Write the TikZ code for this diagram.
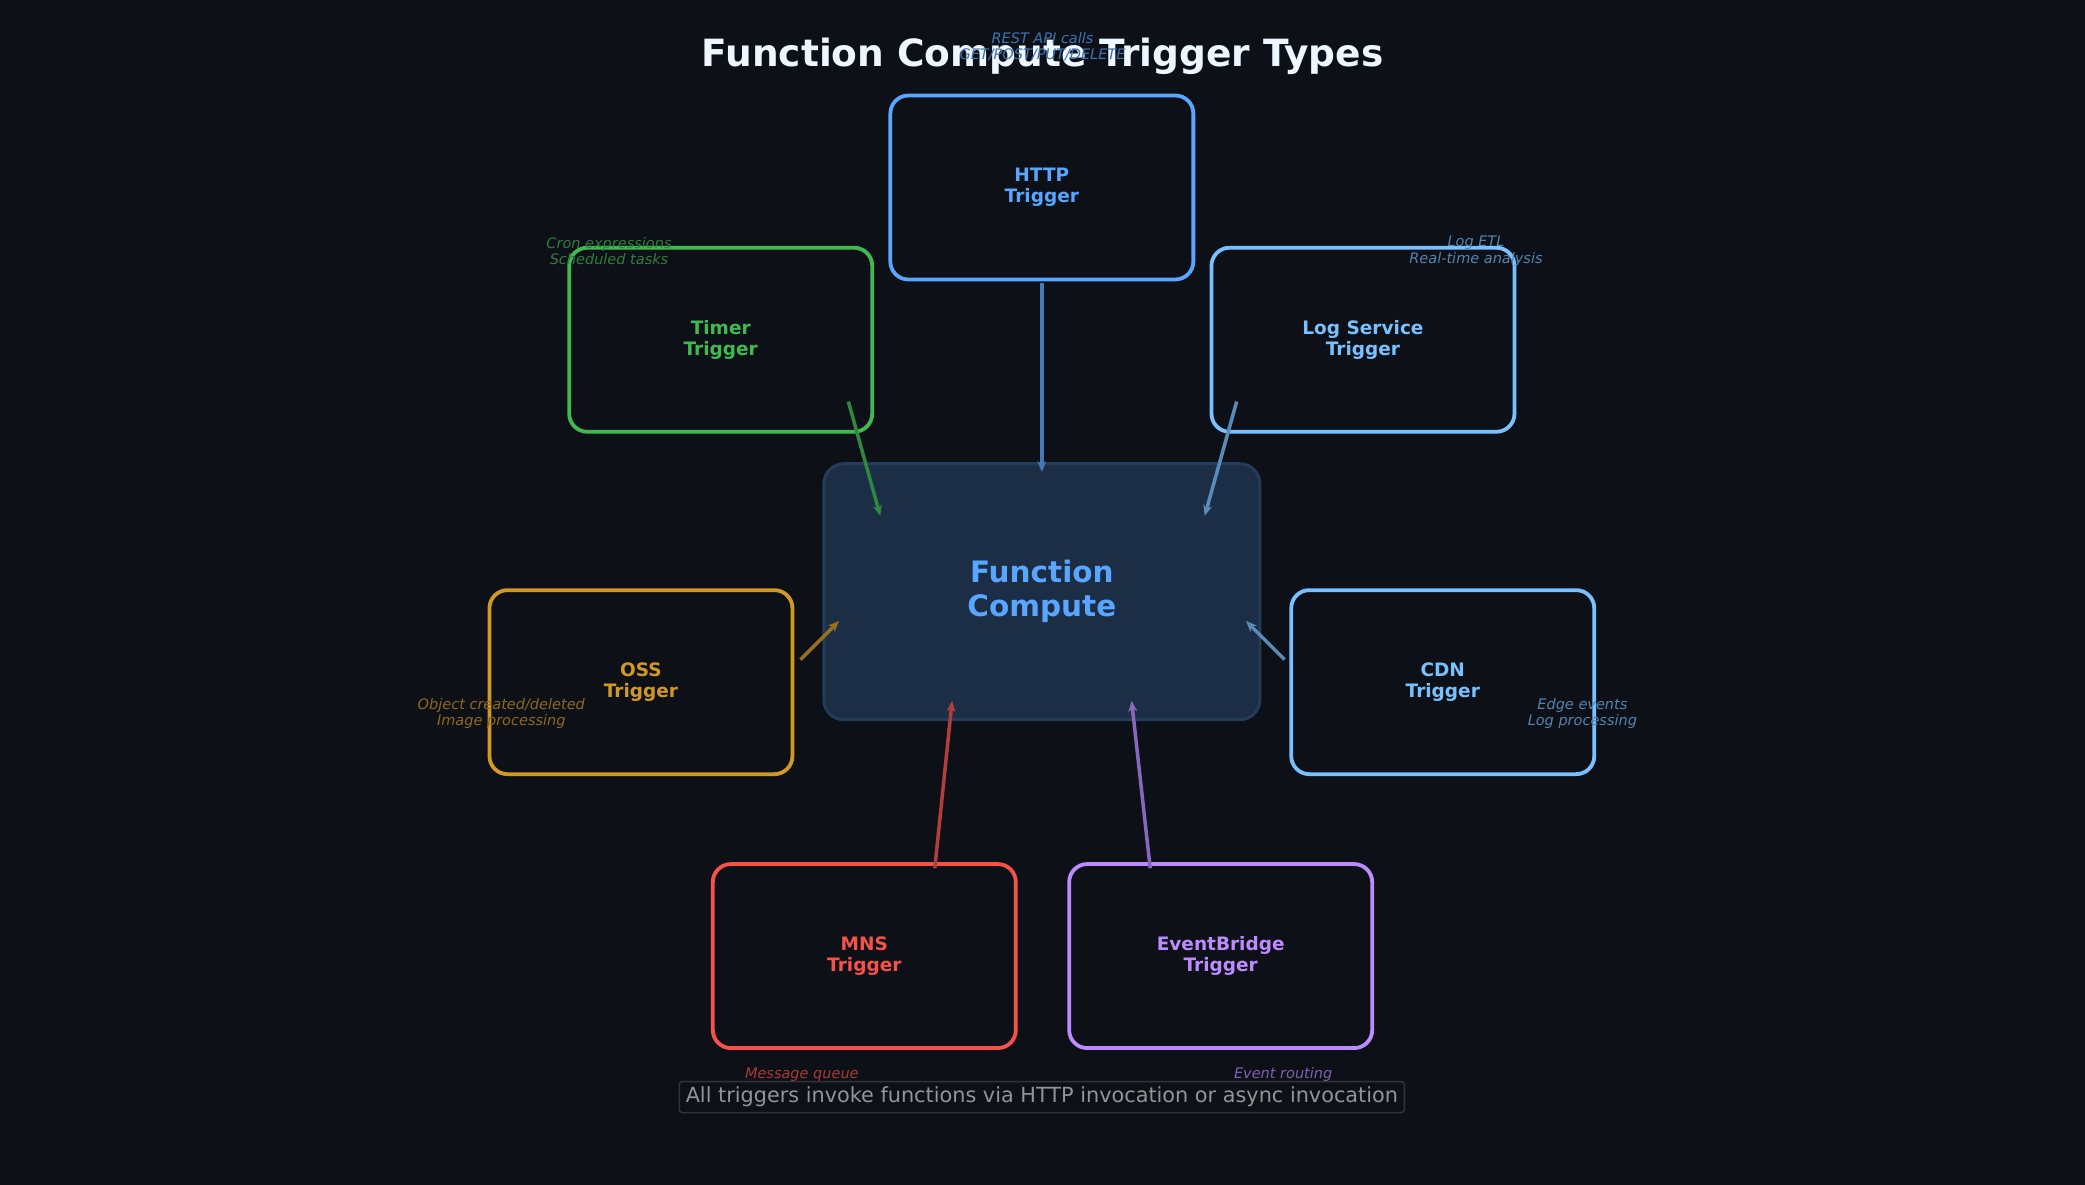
\documentclass[tikz,border=0pt]{standalone}
\usepackage{fontspec}
\setmainfont{DejaVu Sans}
\usetikzlibrary{arrows.meta}
\definecolor{bg}{HTML}{0D1117}
\definecolor{cH}{HTML}{58A6FF}
\definecolor{cT}{HTML}{3FB950}
\definecolor{cL}{HTML}{79C0FF}
\definecolor{cO}{HTML}{D29922}
\definecolor{cM}{HTML}{F85149}
\definecolor{cE}{HTML}{BC8CFF}
\definecolor{cfill}{HTML}{1C2D46}
\definecolor{cbord}{HTML}{243B5C}
\begin{document}
\begin{tikzpicture}[x=1.3297pt,y=-1.3297pt,
 trig/.style={draw=#1,text=#1,line width=3.8pt,rounded corners=18pt,fill=bg,minimum width=303pt,minimum height=184pt,align=center,font=\fontsize{18.5}{21.5}\selectfont\bfseries},
 arr/.style={draw=#1!70!bg,line width=3.5pt,-{Stealth[length=11pt,width=9pt]}},
 ann/.style={text=#1!65!bg,align=center,font=\fontsize{14.5}{16.5}\selectfont\itshape}]
\fill[bg] (0,0) rectangle (1568,891);
\useasboundingbox (0,0) rectangle (1568,891);
\node[text=white!90!cH,font=\fontsize{37.5}{42}\selectfont\bfseries] (title) at (784,42) {Function Compute Trigger Types};
\node[ann=cH] (aH) at (784,35) {REST API calls\\GET/POST/PUT/DELETE};
\node[draw=cbord,fill=cfill,line width=3pt,rounded corners=20pt,minimum width=436pt,minimum height=256pt,text=cH,align=center,font=\fontsize{29.5}{34}\selectfont\bfseries] (fc) at (783.5,445) {Function\\Compute};
\node[trig=cH] (http) at (783.5,141) {HTTP\\Trigger};
\node[trig=cT] (timer) at (542,255.5) {Timer\\Trigger};
\node[trig=cL] (log) at (1025,255.5) {Log Service\\Trigger};
\node[trig=cO] (oss) at (482,513) {OSS\\Trigger};
\node[trig=cL] (cdn) at (1085,513) {CDN\\Trigger};
\node[trig=cM] (mns) at (650,719) {MNS\\Trigger};
\node[trig=cE] (eb) at (918,719) {EventBridge\\Trigger};
\node[ann=cT] (aT) at (458,189) {Cron expressions\\Scheduled tasks};
\node[ann=cL] (aL) at (1110,189) {Log ETL\\Real-time analysis};
\node[ann=cO] (aO) at (377,536.5) {Object created/deleted\\Image processing};
\node[ann=cL] (aC) at (1190,536.5) {Edge events\\Log processing};
\node[ann=cM] (aM) at (603,808) {Message queue};
\node[ann=cE] (aE) at (965,808) {Event routing};
\coordinate (h1) at (783.5,213); \coordinate (h2) at (783.5,355);
\coordinate (t1) at (638,302); \coordinate (t2) at (662,388);
\coordinate (l1) at (930,302); \coordinate (l2) at (906,388);
\coordinate (o1) at (602,496); \coordinate (o2) at (631,467);
\coordinate (c1) at (966,496); \coordinate (c2) at (937,467);
\coordinate (m1) at (703,653); \coordinate (m2) at (716,527);
\coordinate (e1) at (865,653); \coordinate (e2) at (851,527);
\draw[arr=cH] (h1)--(h2);
\draw[arr=cT] (t1)--(t2);
\draw[arr=cL] (l1)--(l2);
\draw[arr=cO] (o1)--(o2);
\draw[arr=cL] (c1)--(c2);
\draw[arr=cM] (m1)--(m2);
\draw[arr=cE] (e1)--(e2);
\node[draw=white!15!bg,fill=bg,line width=1.5pt,rounded corners=3pt,minimum width=725pt,minimum height=31pt,text=white!55!bg,font=\fontsize{20.8}{24}\selectfont] (foot) at (783.5,825) {All triggers invoke functions via HTTP invocation or async invocation};
\end{tikzpicture}
\end{document}
